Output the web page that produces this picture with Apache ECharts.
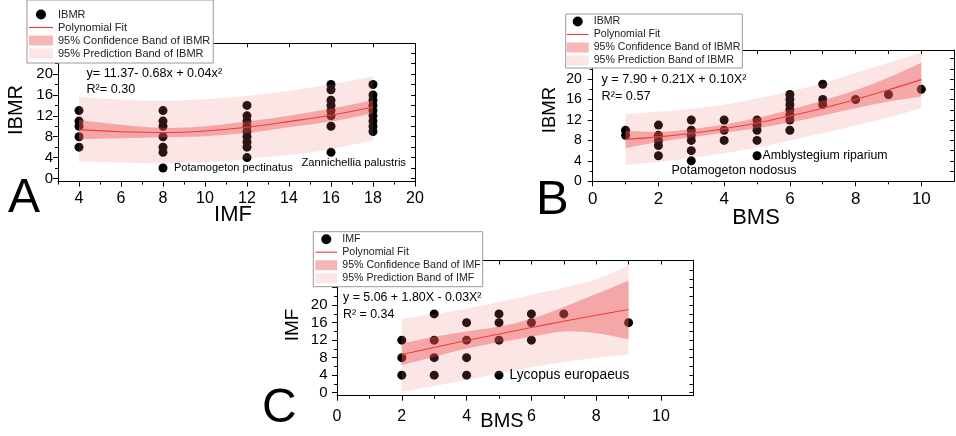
<!DOCTYPE html>
<html>
<head>
<meta charset="utf-8">
<script src="https://cdn.jsdelivr.net/npm/echarts@6/dist/echarts.min.js"></script>
<style>
  html, body { margin: 0; padding: 0; background: #fff; }
  #chart { width: 956px; height: 436px; }
</style>
</head>
<body>
<div id="chart"></div>
<script>
// ---- Panel A: IBMR against IMF ----
const imfLevelsA = [4, 8, 12, 16, 18];
const ibmrByImfA = [
  [6, 8, 10, 11, 13],
  [2, 5, 6, 8, 10, 11, 13],
  [4, 6, 7, 8, 9, 10, 11, 12, 14],
  [5, 10, 12, 13, 14, 15, 17, 18],
  [9, 10, 11, 12, 13, 14, 15, 16, 18]
];
const fitXA   = [4, 6, 8, 10, 12, 14, 16, 18];
const fitA    = [9.35, 8.95, 8.8, 9.1, 9.8, 10.9, 12.1, 13.7];
const confLoA = [7.5, 7.7, 7.9, 8.1, 8.7, 9.8, 10.9, 12.5];
const confHiA = [11.2, 10.3, 9.7, 10.0, 10.9, 12.0, 13.4, 15.0];
const predLoA = [3.2, 3.0, 2.9, 3.1, 3.8, 4.5, 5.6, 7.3];
const predHiA = [15.6, 15.1, 14.9, 15.2, 15.8, 16.8, 18.0, 19.6];

// ---- Panel B: IBMR against BMS ----
const bmsLevelsB = [1, 2, 3, 4, 5, 6, 7, 8, 9, 10];
const ibmrByBmsB = [
  [9, 10],
  [5, 7, 8, 9, 11],
  [4, 6, 8, 9, 10, 12],
  [8, 10, 12],
  [5, 8, 10, 11, 12],
  [10, 12, 13, 14, 15, 16, 17],
  [15, 16, 19],
  [16],
  [17],
  [18]
];
const fitXB   = [1, 2, 3, 4, 5, 6, 7, 8, 9, 10];
const fitB    = [8.2, 8.7, 9.4, 10.3, 11.4, 12.8, 14.3, 16.0, 17.9, 19.9];
const confLoB = [6.5, 7.7, 8.6, 9.5, 10.4, 11.5, 12.9, 14.3, 15.6, 16.6];
const confHiB = [9.9, 9.7, 10.2, 11.1, 12.4, 14.0, 15.8, 17.8, 20.3, 23.2];
const predLoB = [3.2, 3.8, 4.6, 5.5, 6.6, 8.0, 9.4, 10.9, 12.5, 14.3];
const predHiB = [13.1, 13.6, 14.2, 15.0, 16.2, 17.6, 19.2, 21.2, 23.2, 25.2];

// ---- Panel C: IMF against BMS ----
const bmsLevelsC = [2, 3, 4, 5, 6, 7, 9];
const imfByBmsC = [
  [4, 8, 12],
  [4, 8, 12, 18],
  [4, 8, 12, 16],
  [4, 12, 16, 18],
  [12, 16, 18],
  [18],
  [16]
];
const fitXC   = [2, 3, 4, 5, 6, 7, 8, 9];
const fitC    = [8.7, 10.3, 11.9, 13.4, 14.9, 16.3, 17.7, 19.0];
const confLoC = [6.3, 8.2, 10.1, 11.5, 12.8, 14.0, 13.6, 12.2];
const confHiC = [11.2, 12.8, 14.0, 15.1, 16.9, 19.6, 22.6, 25.6];
const predLoC = [0.2, 1.5, 2.9, 4.3, 5.8, 7.0, 8.0, 8.6];
const predHiC = [16.9, 18.0, 19.2, 20.7, 22.4, 24.0, 25.9, 29.2];

// ---- tick values ----
const xLabelsA = [4, 6, 8, 10, 12, 14, 16, 18, 20];
const xMinorA  = [3, 5, 7, 9, 11, 13, 15, 17, 19];
const xLabelsBC = [0, 2, 4, 6, 8, 10];
const xMinorBC  = [1, 3, 5, 7, 9];
const xTopBC    = [0, 1, 2, 3, 4, 5, 6, 7, 8, 9, 10];
const yLabels   = [0, 4, 8, 12, 16, 20];
const yMajorAB  = [0, 4, 8, 12, 16, 20, 24];
const yMinorAB  = [2, 6, 10, 14, 18, 22];
const yRightAB  = [0, 2, 4, 6, 8, 10, 12, 14, 16, 18, 20, 22, 24];
const yMajorC   = [0, 4, 8, 12, 16, 20, 24, 28];
const yMinorC   = [2, 6, 10, 14, 18, 22, 26];
const yRightC   = [0, 2, 4, 6, 8, 10, 12, 14, 16, 18, 20, 22, 24, 26, 28];

const FONT = '"Liberation Sans", Arial, Helvetica, sans-serif';
const PRED = 'rgba(240,110,110,0.18)';
const CONF = 'rgba(235,75,75,0.40)';
const FIT  = '#f03c3c';
const INK  = '#000';

function buildPoints(levels, groups) {
  const out = [];
  levels.forEach((x, i) => groups[i].forEach(y => out.push([x, y])));
  return out;
}
function pairs(xs, ys) { return xs.map((x, i) => [x, ys[i]]); }

const panels = [
  {
    grid: { left: 58, top: 43.3, width: 357, height: 138.3 },
    x: { min: 3, max: 20, labels: xLabelsA, major: xLabelsA, minor: xMinorA, top: xLabelsA, fontSize: 16, margin: 9 },
    y: { min: -0.6, max: 25.9, labels: yLabels, major: yMajorAB, minor: yMinorAB, right: yRightAB, fontSize: 15, margin: 5 }
  },
  {
    grid: { left: 592.7, top: 50, width: 361.5, height: 131.3 },
    x: { min: 0, max: 11, labels: xLabelsBC, major: xLabelsBC, minor: xMinorBC, top: xTopBC, fontSize: 17, margin: 10 },
    y: { min: 0, max: 25.7, labels: yLabels, major: yMajorAB, minor: yMinorAB, right: yRightAB, fontSize: 14, margin: 11 }
  },
  {
    grid: { left: 337, top: 260.5, width: 356.4, height: 135.2 },
    x: { min: 0, max: 11, labels: xLabelsBC, major: xLabelsBC, minor: xMinorBC, top: xTopBC, fontSize: 16, margin: 13 },
    y: { min: -0.7, max: 30.2, labels: yLabels, major: yMajorC, minor: yMinorC, right: yRightC, fontSize: 15, margin: 9.5 }
  }
];

const line = { color: INK, width: 1 };
const xAxes = [], yAxes = [];
panels.forEach((p, i) => {
  const common = { type: 'value', gridIndex: i, splitLine: { show: false } };
  xAxes.push(Object.assign({}, common, {
    position: 'bottom', min: p.x.min, max: p.x.max,
    axisLine: { show: true, onZero: false, lineStyle: line },
    axisTick: { show: true, length: 5, customValues: p.x.major, lineStyle: line },
    axisLabel: { show: true, customValues: p.x.labels, color: INK, fontSize: p.x.fontSize, fontFamily: FONT, margin: p.x.margin }
  }));
  xAxes.push(Object.assign({}, common, {
    position: 'bottom', min: p.x.min, max: p.x.max,
    axisLine: { show: false, onZero: false },
    axisTick: { show: true, length: 3, customValues: p.x.minor, lineStyle: line },
    axisLabel: { show: false }
  }));
  xAxes.push(Object.assign({}, common, {
    position: 'top', min: p.x.min, max: p.x.max,
    axisLine: { show: true, onZero: false, lineStyle: line },
    axisTick: { show: true, inside: true, length: 4, customValues: p.x.top, lineStyle: line },
    axisLabel: { show: false }
  }));
  yAxes.push(Object.assign({}, common, {
    position: 'left', min: p.y.min, max: p.y.max,
    axisLine: { show: true, onZero: false, lineStyle: line },
    axisTick: { show: true, length: 5, customValues: p.y.major, lineStyle: line },
    axisLabel: { show: true, customValues: p.y.labels, color: INK, fontSize: p.y.fontSize, fontFamily: FONT, margin: p.y.margin }
  }));
  yAxes.push(Object.assign({}, common, {
    position: 'left', min: p.y.min, max: p.y.max,
    axisLine: { show: false, onZero: false },
    axisTick: { show: true, length: 3, customValues: p.y.minor, lineStyle: line },
    axisLabel: { show: false }
  }));
  yAxes.push(Object.assign({}, common, {
    position: 'right', min: p.y.min, max: p.y.max,
    axisLine: { show: true, onZero: false, lineStyle: line },
    axisTick: { show: true, inside: true, length: 4, customValues: p.y.right, lineStyle: line },
    axisLabel: { show: false }
  }));
});

// smooth cubic segments through pixel points (Catmull-Rom style)
function curveSegs(p) {
  let s = '';
  for (let i = 0; i < p.length - 1; i++) {
    const p0 = p[i - 1] || p[i], p1 = p[i], p2 = p[i + 1], p3 = p[i + 2] || p2;
    const c1x = p1[0] + (p2[0] - p0[0]) / 6, c1y = p1[1] + (p2[1] - p0[1]) / 6;
    const c2x = p2[0] - (p3[0] - p1[0]) / 6, c2y = p2[1] - (p3[1] - p1[1]) / 6;
    s += ' C' + c1x + ' ' + c1y + ' ' + c2x + ' ' + c2y + ' ' + p2[0] + ' ' + p2[1];
  }
  return s;
}

// shaded band between the lower and upper bound rows, drawn as one closed path
function band(name, panel, xs, lo, hi, color, z) {
  const n = xs.length;
  return {
    type: 'custom', name: name, silent: true, z: z,
    xAxisIndex: panel * 3, yAxisIndex: panel * 3,
    data: xs.map((x, i) => [x, lo[i], hi[i]]),
    encode: { x: 0, y: [1, 2] },
    itemStyle: { color: color },
    renderItem: function (params, api) {
      if (params.dataIndexInside !== 0) return null;
      const up = [], dn = [];
      for (let i = 0; i < n; i++) {
        up.push(api.coord([api.value(0, i), api.value(2, i)]));
        dn.push(api.coord([api.value(0, i), api.value(1, i)]));
      }
      dn.reverse();
      const d = 'M' + up[0][0] + ' ' + up[0][1] + curveSegs(up) +
                ' L' + dn[0][0] + ' ' + dn[0][1] + curveSegs(dn) + ' Z';
      return { type: 'path', shape: { pathData: d }, style: { fill: color, stroke: null } };
    }
  };
}
function scatter(name, panel, data) {
  return {
    type: 'scatter', name: name, data: data, symbol: 'circle', symbolSize: 9,
    xAxisIndex: panel * 3, yAxisIndex: panel * 3, z: 2,
    itemStyle: { color: INK, opacity: 1 }
  };
}
function fitLine(panel, xs, ys) {
  return {
    type: 'line', name: 'Polynomial Fit', data: pairs(xs, ys), smooth: 0.35,
    symbol: 'none', xAxisIndex: panel * 3, yAxisIndex: panel * 3, z: 5,
    lineStyle: { color: FIT, width: 1.1 }, itemStyle: { color: FIT }
  };
}

const series = [
  scatter('IBMR', 0, buildPoints(imfLevelsA, ibmrByImfA)),
  band('95% Prediction Band of IBMR', 0, fitXA, predLoA, predHiA, PRED, 3),
  band('95% Confidence Band of IBMR', 0, fitXA, confLoA, confHiA, CONF, 4),
  fitLine(0, fitXA, fitA),

  scatter('IBMR', 1, buildPoints(bmsLevelsB, ibmrByBmsB)),
  band('95% Prediction Band of IBMR', 1, fitXB, predLoB, predHiB, PRED, 3),
  band('95% Confidence Band of IBMR', 1, fitXB, confLoB, confHiB, CONF, 4),
  fitLine(1, fitXB, fitB),

  scatter('IMF', 2, buildPoints(bmsLevelsC, imfByBmsC)),
  band('95% Prediction Band of IMF', 2, fitXC, predLoC, predHiC, PRED, 3),
  band('95% Confidence Band of IMF', 2, fitXC, confLoC, confHiC, CONF, 4),
  fitLine(2, fitXC, fitC)
];

const LINE_ICON = 'path://M0,0 L24,0 L24,1.2 L0,1.2 Z';
function legendItems(resp) {
  return [
    { name: resp, icon: 'circle', itemStyle: { color: INK } },
    { name: 'Polynomial Fit', icon: LINE_ICON, itemStyle: { color: FIT, borderWidth: 0 } },
    { name: '95% Confidence Band of ' + resp, icon: 'rect', itemStyle: { color: CONF, borderWidth: 0 } },
    { name: '95% Prediction Band of ' + resp, icon: 'rect', itemStyle: { color: PRED, borderWidth: 0 } }
  ];
}
function legendBox(left, top, padding, itemWidth, fontSize, resp) {
  return {
    orient: 'vertical', left: left, top: top, padding: padding,
    itemWidth: itemWidth, itemHeight: 10, itemGap: 0,
    backgroundColor: '#fff', borderColor: '#9a9a9a', borderWidth: 1,
    selectedMode: false, z: 20,
    textStyle: { fontFamily: FONT, fontSize: fontSize, lineHeight: 13, color: '#222' },
    data: legendItems(resp)
  };
}

function txt(text, x, y, size, opts) {
  opts = opts || {};
  return {
    type: 'text', x: x, y: y, rotation: opts.rotation || 0, z: 50, silent: true,
    style: {
      text: text, fill: INK,
      font: size + 'px ' + FONT,
      align: opts.align || 'left', textAlign: opts.align || 'left',
      verticalAlign: 'middle', textVerticalAlign: 'middle'
    }
  };
}
const V = Math.PI / 2;
const graphics = [
  // panel letters
  txt('A', 8, 199, 48),
  txt('B', 536, 200, 49),
  txt('C', 262, 409, 48),
  // axis titles
  txt('IBMR', 16, 110, 20, { align: 'center', rotation: V }),
  txt('IMF', 233, 215, 22, { align: 'center' }),
  txt('IBMR', 550, 110, 18.5, { align: 'center', rotation: V }),
  txt('BMS', 756, 218, 22, { align: 'center' }),
  txt('IMF', 293, 325, 19, { align: 'center', rotation: V }),
  txt('BMS', 502, 421, 20, { align: 'center' }),
  // fitted equations
  txt('y= 11.37- 0.68x + 0.04x²', 86.5, 74, 12.6),
  txt('R²= 0.30', 86.5, 89.5, 12.6),
  txt('y = 7.90 + 0.21X + 0.10X²', 601.5, 79.5, 12.7),
  txt('R²= 0.57', 601.5, 96, 12.7),
  txt('y = 5.06 + 1.80X - 0.03X²', 343, 298, 12.4),
  txt('R² = 0.34', 343, 315, 12.4),
  // species notes
  txt('Potamogeton pectinatus', 174, 167.5, 11),
  txt('Zannichellia palustris', 301.5, 162.5, 11.2),
  txt('Amblystegium riparium', 762.5, 156, 12.3),
  txt('Potamogeton nodosus', 671.5, 171, 12.5),
  txt('Lycopus europaeus', 509.5, 375.5, 13.8)
];

const chart = echarts.init(document.getElementById('chart'), null, { renderer: 'canvas' });
chart.setOption({
  animation: false,
  backgroundColor: '#fff',
  textStyle: { fontFamily: FONT },
  grid: panels.map(p => Object.assign({ containLabel: false }, p.grid)),
  xAxis: xAxes,
  yAxis: yAxes,
  legend: [
    legendBox(27, 0, [8, 3, 3, 2], 24, 11, 'IBMR'),
    legendBox(565.7, 14, [1, 2, 1, 1], 22, 10.6, 'IBMR'),
    legendBox(313.3, 231.7, [1, 2, 2, 2], 22, 10.6, 'IMF')
  ],
  series: series,
  graphic: graphics
});
</script>
</body>
</html>
